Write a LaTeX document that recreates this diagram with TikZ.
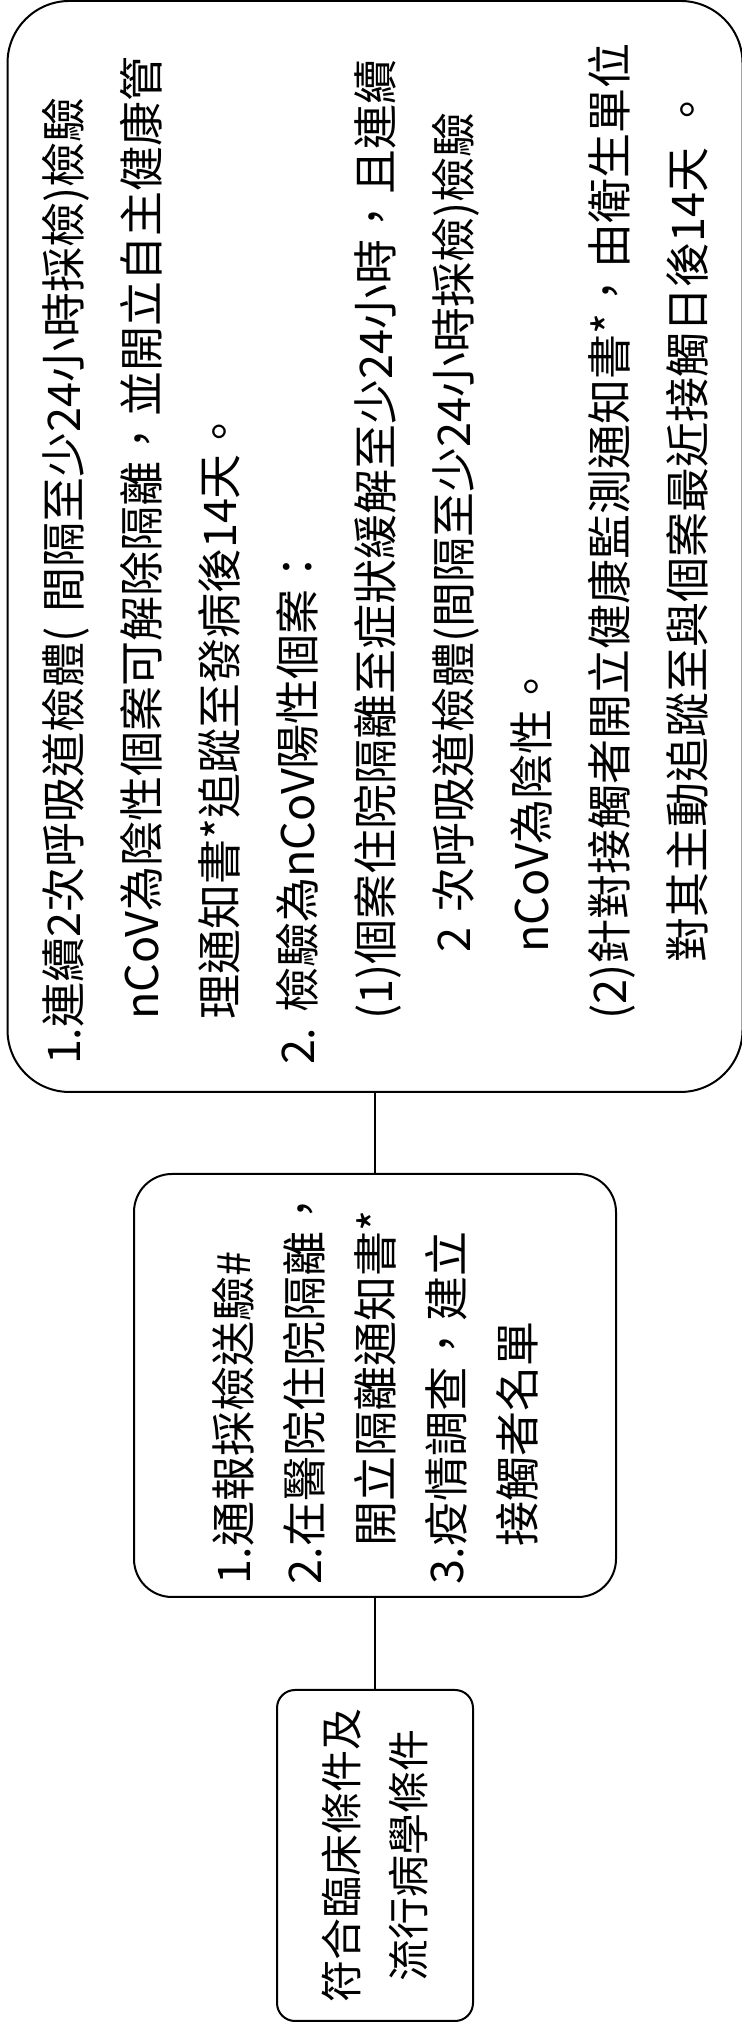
\documentclass[tikz,border=0pt]{standalone}
\usepackage{fontspec}
\setmainfont{Noto Sans CJK TC}
\usetikzlibrary{positioning}

\begin{document}
\begin{tikzpicture}[
  x=0.5pt, y=0.5pt,
  font=\fontsize{22.5}{39}\selectfont,
  box/.style={draw, line width=1pt, rotate=90, inner sep=0pt},
  link/.style={line width=0.6pt}
]
\useasboundingbox (0,0) rectangle (741,2037);
\node[box, rounded corners=9pt, minimum width=165.5pt, minimum height=98pt, align=center,
  font=\fontsize{21}{33.5}\selectfont] (crit) at (375,181.5)
  {符合臨床條件及\\流行病學條件};
\node[box, rounded corners=19pt, minimum width=211.5pt, minimum height=241pt, align=left,
  font=\fontsize{22.5}{35.5}\selectfont] (notify) at (375,651.5)
  {1.通報採檢送驗\#\\2.在醫院住院隔離，\\\phantom{2.}開立隔離通知書*\\3.疫情調查，建立\\\phantom{3.}接觸者名單};
\node[box, rounded corners=31pt, minimum width=545.5pt, minimum height=367.5pt,
  text width=518.5pt, inner xsep=13.5pt, align=left] (isolate) at (375,1490.5)
  {1.連續2次呼吸道檢體(~間隔至少24小時採檢)檢驗\\
   \hspace*{1em}nCoV為陰性個案可解除隔離，並開立自主健康管\\
   \hspace*{1em}理通知書*追蹤至發病後14天。\\
   2.~檢驗為nCoV陽性個案：\\
   \hspace*{1em}(1)個案住院隔離至症狀緩解至少24小時，且連續\\
   \hspace*{2.5em}2~次呼吸道檢體(間隔至少24小時採檢)檢驗\\
   \hspace*{2.5em}nCoV為陰性。\\
   \hspace*{1em}(2)針對接觸者開立健康監測通知書*，由衛生單位\\
   \hspace*{2.27em}對其主動追蹤至與個案最近接觸日後14天~。};
\draw[link] (crit.east) -- (notify.west);
\draw[link] (notify.east) -- (isolate.west);
\end{tikzpicture}
\end{document}
